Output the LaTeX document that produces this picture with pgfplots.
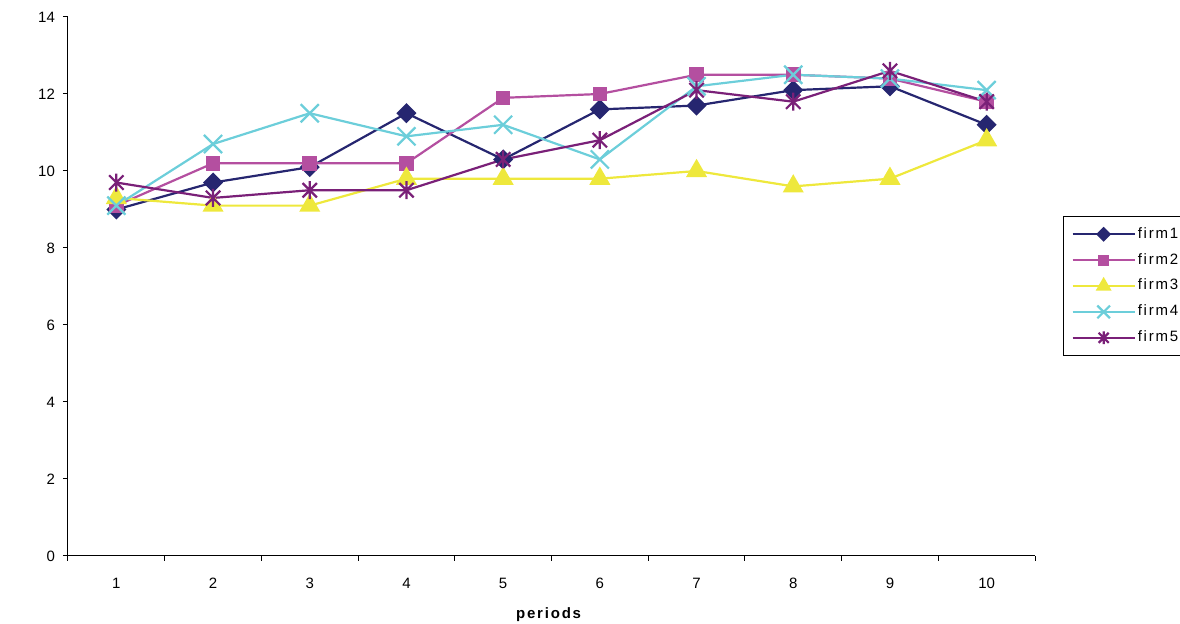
\documentclass[border=0pt]{standalone}
\usepackage{fontspec}
\setmainfont{Liberation Sans}
\newfontfamily\spaced[LetterSpace=12]{Liberation Sans}
\usepackage{pgfplots}
\pgfplotsset{compat=1.18}
\definecolor{cA}{RGB}{38,38,112}
\definecolor{cB}{RGB}{180,79,160}
\definecolor{cC}{RGB}{238,232,60}
\definecolor{cD}{RGB}{108,206,218}
\definecolor{cE}{RGB}{122,32,120}
\pgfdeclareplotmark{xstar}{%
  \pgfpathmoveto{\pgfqpoint{0pt}{\pgfplotmarksize}}%
  \pgfpathlineto{\pgfqpoint{0pt}{-\pgfplotmarksize}}%
  \pgfpathmoveto{\pgfqpoint{.8\pgfplotmarksize}{.8\pgfplotmarksize}}%
  \pgfpathlineto{\pgfqpoint{-.8\pgfplotmarksize}{-.8\pgfplotmarksize}}%
  \pgfpathmoveto{\pgfqpoint{.8\pgfplotmarksize}{-.8\pgfplotmarksize}}%
  \pgfpathlineto{\pgfqpoint{-.8\pgfplotmarksize}{.8\pgfplotmarksize}}%
  \pgfusepathqstroke}
\begin{document}
\begin{tikzpicture}
\useasboundingbox (-34pt,-34pt) rectangle (556pt,278pt);
\begin{axis}[
  scale only axis, width=483.5pt, height=269.5pt,
  xmin=0.5, xmax=10.5, ymin=0, ymax=14,
  axis x line*=bottom, axis y line*=left,
  axis line style={line width=0.5pt, black},
  tick align=outside, major tick length=2.5pt,
  tick style={line width=0.5pt, black},
  xtick={0.5,1.5,...,10.5}, xticklabels={},
  extra x ticks={1,2,3,4,5,6,7,8,9,10},
  extra x tick labels={1,2,3,4,5,6,7,8,9,10},
  extra x tick style={tick style={draw=none}},
  ytick={0,2,...,14},
  /pgf/number format/assume math mode=true,
  tick label style={font=\fontsize{7.5}{8.5}\selectfont},
  xticklabel style={yshift=-5pt},
  yticklabel style={xshift=-0.5pt},
  xlabel={\bfseries\spaced periods},
  xlabel style={font=\fontsize{7.5}{8.5}\selectfont, at={(axis description cs:0.497,0)}, anchor=center, yshift=-29.5pt},
  every axis plot/.append style={line width=1.1pt},
  legend style={at={(axis description cs:1.029,0.631)}, anchor=north west,
    draw=black, line width=0.5pt, font=\fontsize{7.5}{8.5}\selectfont\spaced,
    row sep=4pt, inner xsep=4pt, inner ysep=4.5pt,
    nodes={inner sep=1pt}},
  legend cell align=left,
  legend image code/.code={\draw[mark repeat=2,mark phase=2,#1,every mark/.append style={scale=0.7}] plot coordinates {(0pt,0pt) (15.5pt,0pt) (31pt,0pt)};},
]
\addplot[cA, mark=square*, mark size=3pt, mark options={rotate=45, solid, fill=cA}] coordinates {
(1,9.0) (2,9.7) (3,10.1) (4,11.5) (5,10.3) (6,11.6) (7,11.7) (8,12.1) (9,12.2) (10,11.2)};
\addlegendentry{firm1}
\addplot[cB, mark=square*, mark size=3.1pt, mark options={solid, fill=cB}] coordinates {
(1,9.1) (2,10.2) (3,10.2) (4,10.2) (5,11.9) (6,12.0) (7,12.5) (8,12.5) (9,12.4) (10,11.8)};
\addlegendentry{firm2}
\addplot[cC, mark=triangle*, mark size=5pt, mark options={solid, fill=cC}] coordinates {
(1,9.3) (2,9.1) (3,9.1) (4,9.8) (5,9.8) (6,9.8) (7,10.0) (8,9.6) (9,9.8) (10,10.8)};
\addlegendentry{firm3}
\addplot[cD, mark=x, mark size=6.4pt, mark options={solid}] coordinates {
(1,9.1) (2,10.7) (3,11.5) (4,10.9) (5,11.2) (6,10.3) (7,12.2) (8,12.5) (9,12.4) (10,12.1)};
\addlegendentry{firm4}
\addplot[cE, mark=xstar, mark size=4.5pt, mark options={solid}] coordinates {
(1,9.7) (2,9.3) (3,9.5) (4,9.5) (5,10.3) (6,10.8) (7,12.1) (8,11.8) (9,12.6) (10,11.8)};
\addlegendentry{firm5}
\node[fill=black, minimum width=8.5pt, minimum height=20pt, inner sep=0pt] at (axis description cs:-0.0512,0.5) {};
\end{axis}
\end{tikzpicture}
\end{document}
